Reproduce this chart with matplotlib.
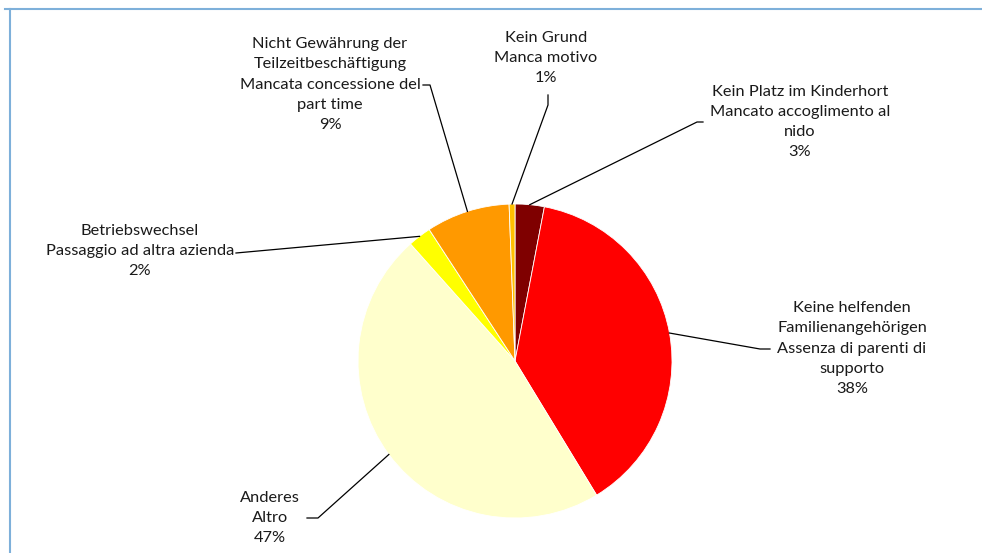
import numpy as np
import matplotlib.pyplot as plt
import matplotlib as mpl
from matplotlib.lines import Line2D

mpl.rcParams["font.family"] = ["Lato", "DejaVu Sans"]

# ---- data (clockwise from 12 o'clock)
labels = [
    "Kein Platz im Kinderhort\nMancato accoglimento al\nnido",
    "Keine helfenden\nFamilienangehörigen\nAssenza di parenti di\nsupporto",
    "Anderes\nAltro",
    "Betriebswechsel\nPassaggio ad altra azienda",
    "Nicht Gewährung der\nTeilzeitbeschäftigung\nMancata concessione del\npart time",
    "Kein Grund\nManca motivo",
]
values = [3.0, 38.3, 47.1, 2.4, 8.6, 0.6]
colors = ["#7F0000", "#FF0000", "#FFFFCC", "#FFFF00", "#FF9900", "#FFC000"]

# ---- layout (pixel coords, y measured from top)
W, H = 982, 553
cx, cy, R = 515, 361, 157
# label centre x, first line y, elbow point, text anchor of leader
label_pos = [
    (800, 90, (697, 122), (703, 122)),
    (852, 306, (760, 349), (770, 349)),
    (270, 497, (318, 518), (307, 518)),
    (140, 230, (236, 253), (236, 253)),
    (330, 42, (430, 85), (423, 85)),
    (546, 37, (548, 105), (548, 95)),
]
line_h = 21.3

fig = plt.figure(figsize=(W / 100, H / 100), dpi=100)
ax = fig.add_axes([0, 0, 1, 1])

ax.pie(values, colors=colors, startangle=90, counterclock=False,
       center=(cx, H - cy), radius=R,
       wedgeprops=dict(edgecolor="white", linewidth=0.6))
ax.set_xlim(0, W)
ax.set_ylim(0, H)
ax.set_aspect("equal")
ax.axis("off")

total = sum(values)
cum = 0
for lab, v, (tx, ty, elbow, anchor) in zip(labels, values, label_pos):
    mid = (cum + v / 2) / total * 2 * np.pi
    cum += v
    px = cx + R * np.sin(mid)
    py = cy - R * np.cos(mid)
    xs = [px, elbow[0], anchor[0]]
    ys = [H - py, H - elbow[1], H - anchor[1]]
    ax.plot(xs, ys, color="black", lw=0.9)
    text = f"{lab}\n{round(v / total * 100)}%"
    n = text.count("\n") + 1
    ax.text(tx, H - (ty + (n - 1) * line_h / 2), text, ha="center",
            va="center", fontsize=11.8, linespacing=1.56, color="#1a1a1a")

# ---- chart border (top and left only visible)
border = "#7EB0DA"
fig.add_artist(Line2D([5 / W, 1], [1 - 9 / H, 1 - 9 / H], color=border, lw=1.5))
fig.add_artist(Line2D([10 / W, 10 / W], [0, 1 - 9 / H], color=border, lw=1.5))

fig.savefig("out.png", dpi=100)
